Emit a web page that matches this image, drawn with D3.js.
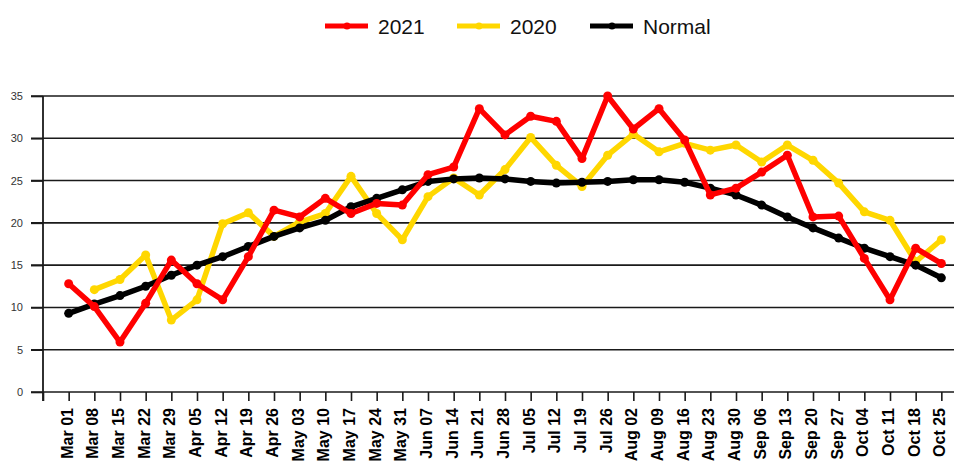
<!DOCTYPE html>
<html><head><meta charset="utf-8">
<script src="https://cdn.jsdelivr.net/npm/d3@7/dist/d3.min.js"></script>
<style>html,body{margin:0;padding:0;background:#fff;}svg{display:block;}</style>
</head><body><svg id="c" width="954" height="462"></svg>
<script>
const categories = ["Mar 01","Mar 08","Mar 15","Mar 22","Mar 29","Apr 05","Apr 12","Apr 19","Apr 26","May 03","May 10","May 17","May 24","May 31","Jun 07","Jun 14","Jun 21","Jun 28","Jul 05","Jul 12","Jul 19","Jul 26","Aug 02","Aug 09","Aug 16","Aug 23","Aug 30","Sep 06","Sep 13","Sep 20","Sep 27","Oct 04","Oct 11","Oct 18","Oct 25"];
const values2021 = [12.8,10.1,5.9,10.5,15.6,12.8,10.9,16.0,21.5,20.7,22.9,21.1,22.3,22.1,25.7,26.6,33.5,30.4,32.6,32.0,27.6,35.0,31.1,33.5,29.8,23.3,24.1,26.0,28.0,20.7,20.8,15.8,10.9,17.0,15.2];
const values2020 = [null,12.1,13.3,16.2,8.5,10.9,19.9,21.2,18.4,20.1,21.1,25.5,21.1,18.0,23.1,25.3,23.3,26.3,30.1,26.8,24.3,28.0,30.5,28.4,29.4,28.6,29.2,27.2,29.2,27.4,24.7,21.3,20.3,15.4,18.0];
const valuesNormal = [9.3,10.4,11.4,12.5,13.8,15.0,16.0,17.2,18.4,19.4,20.3,21.9,22.9,23.9,24.9,25.2,25.3,25.2,24.9,24.7,24.8,24.9,25.1,25.1,24.8,24.1,23.3,22.1,20.7,19.4,18.2,17.0,16.0,15.0,13.5];
const yTicks = [0,5,10,15,20,25,30,35];
const seriesNames = ["2021","2020","Normal"];
const seriesColors = ["#ff0000","#ffd700","#000000"];

const svg = d3.select("#c");
const x = d3.scaleLinear().domain([0, 36]).range([43, 967]);
const y = d3.scaleLinear().domain([0, 35]).range([392, 96]);
const font = "'Liberation Sans', Arial, sans-serif";

// gridlines
svg.append("g").selectAll("line").data(yTicks).join("line")
  .attr("x1", 31).attr("x2", 954)
  .attr("y1", d => y(d)).attr("y2", d => y(d))
  .attr("stroke", "#1a1a1a").attr("stroke-width", 1.6);

// y axis
const yAxis = svg.append("g").attr("transform", "translate(43,0)")
  .call(d3.axisLeft(y).tickValues(yTicks).tickSize(12).tickPadding(8));
yAxis.select(".domain").remove();
yAxis.selectAll(".tick line").attr("stroke", "#1a1a1a").attr("stroke-width", 1.6);
yAxis.selectAll("text").attr("font-family", font).attr("font-size", 11).attr("fill", "#333");
svg.append("line").attr("x1", 43).attr("x2", 43).attr("y1", y(35)).attr("y2", 401)
  .attr("stroke", "#1a1a1a").attr("stroke-width", 1.8);

// x axis
const xAxis = svg.append("g").attr("transform", "translate(0,392)")
  .call(d3.axisBottom(x).tickValues(d3.range(0, 36)).tickSize(9)
    .tickFormat(d => d === 0 ? "" : categories[d - 1]));
xAxis.select(".domain").remove();
xAxis.selectAll(".tick line").attr("stroke", "#1a1a1a").attr("stroke-width", 1.6);
xAxis.selectAll("text")
  .attr("font-family", font).attr("font-size", 16).attr("font-weight", "bold").attr("fill", "#000")
  .attr("transform", "rotate(-90)")
  .attr("text-anchor", "end")
  .attr("x", -16).attr("y", -2).attr("dy", "0.35em");

// series
const data = [values2020, valuesNormal, values2021];
const colors = [seriesColors[1], seriesColors[2], seriesColors[0]];
const line = d3.line().defined(d => d != null).x((d, i) => x(i + 1)).y(d => y(d));
data.forEach((vals, k) => {
  const g = svg.append("g");
  g.append("path").datum(vals).attr("d", line)
    .attr("fill", "none").attr("stroke", colors[k]).attr("stroke-width", 5.5)
    .attr("stroke-linejoin", "round").attr("stroke-linecap", "round");
  g.selectAll("circle").data(vals.map((v, i) => [v, i]).filter(d => d[0] != null)).join("circle")
    .attr("cx", d => x(d[1] + 1)).attr("cy", d => y(d[0])).attr("r", 4.5)
    .attr("fill", colors[k]);
});

// legend
const legendX = [325, 457, 590];
const lg = svg.append("g");
seriesNames.forEach((name, i) => {
  const lx = legendX[i];
  lg.append("line").attr("x1", lx).attr("x2", lx + 43).attr("y1", 26).attr("y2", 26)
    .attr("stroke", seriesColors[i]).attr("stroke-width", 5);
  lg.append("circle").attr("cx", lx + 22).attr("cy", 26).attr("r", 3.5).attr("fill", seriesColors[i]);
  lg.append("text").attr("x", lx + 53).attr("y", 26).attr("dy", "0.36em")
    .attr("font-family", font).attr("font-size", 21).attr("fill", "#111").text(name);
});
</script></body></html>
